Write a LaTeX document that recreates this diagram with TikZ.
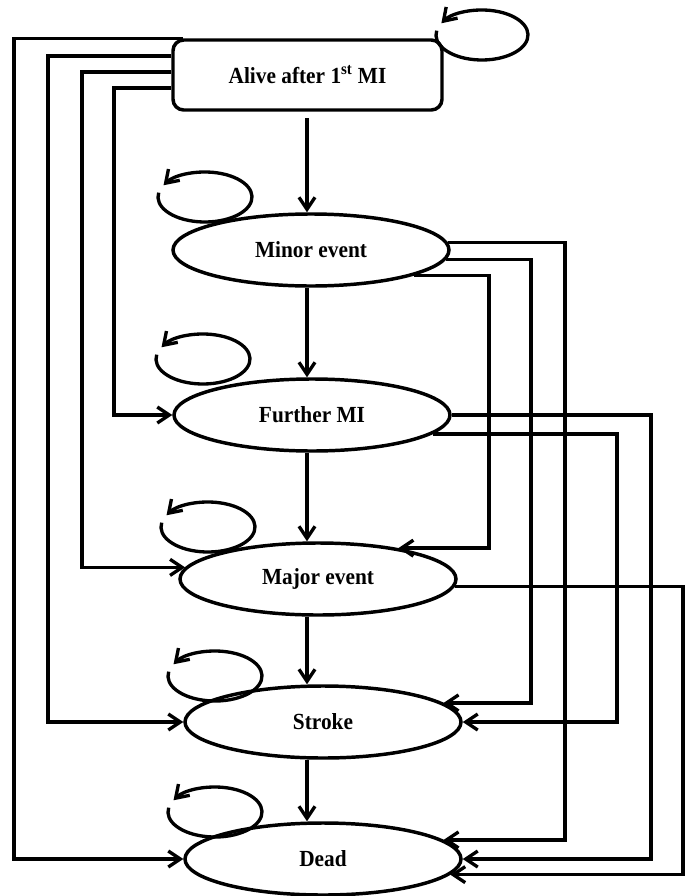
\documentclass[tikz,border=0pt]{standalone}
\usepackage{fontspec}
\setmainfont{Liberation Serif}
\usetikzlibrary{shapes.geometric,arrows.meta}
\newcommand\selfloop[3]{\draw[arr] (#1,#2) ++(-190:#3 and 18.75pt) arc[start angle=-190,end angle=152,x radius=#3,y radius=18.75pt];}
\begin{document}
\begin{tikzpicture}[x=0.75pt,y=0.75pt,line width=2.5pt,
  arr/.style={-{Straight Barb[length=9pt,width=12pt]}},
  lbl/.style={font=\fontsize{16}{19}\selectfont\bfseries},
  state/.style={ellipse,draw,line width=2.6pt,minimum width=207pt,minimum height=54pt,inner sep=0pt,lbl},
  startbox/.style={rectangle,rounded corners=8pt,draw,line width=2.6pt,minimum width=201.75pt,minimum height=52.5pt,inner sep=0pt,lbl}]
\useasboundingbox (0,0) rectangle (686,-896);
% nodes
\node[startbox] (A) at (307.5,-75) {\scalebox{1}[1.08]{Alive after 1\textsuperscript{st} MI}};
\node[state] (MI) at (311,-250) {\scalebox{1}[1.08]{Minor event}};
\node[state] (FM) at (312,-415) {\scalebox{1}[1.08]{Further MI}};
\node[state] (MJ) at (318,-579) {\scalebox{1}[1.08]{Major event}};
\node[state] (ST) at (323,-722) {\scalebox{1}[1.08]{Stroke}};
\node[state] (DE) at (323,-859) {\scalebox{1}[1.08]{Dead}};
% helper coordinates
\coordinate (vx) at (307,0);
\coordinate (l1) at (14,0);
\coordinate (l2) at (48,0);
\coordinate (l3) at (82,0);
\coordinate (l4) at (114,0);
\coordinate (r1) at (489,0);
\coordinate (r2) at (531,0);
\coordinate (r3) at (565,0);
\coordinate (r4) at (617,0);
\coordinate (r5) at (651,0);
\coordinate (r6) at (683,0);
% vertical chain
\draw[arr] ([yshift=-5pt]A.south -| vx) -- (MI.north -| vx);
\draw[arr] (MI.south -| vx) -- (FM.north -| vx);
\draw[arr] (FM.south -| vx) -- (MJ.north -| vx);
\draw[arr] (MJ.south -| vx) -- (ST.north -| vx);
\draw[arr] (ST.south -| vx) -- (DE.north -| vx);
% left side from Alive
\draw[arr] ([xshift=9pt]A.north west) -- (A.north west -| l1) |- (DE.west);
\draw[arr] (A.west |- 0,-56) -- (l2 |- 0,-56) |- (ST.west);
\draw[arr] (A.west |- 0,-72) -- (l3 |- 0,-72) |- (MJ.175);
\draw[arr] (A.west |- 0,-88) -- (l4 |- 0,-88) |- (FM.west);
% right side
\draw[arr] (MI.-14) -| (r1 |- MJ.21) -- (MJ.21);
\draw[arr] (MI.-4) -| (r2 |- ST.9) -- (ST.9);
\draw[arr] (MI.3) -| (r3 |- DE.9) -- (DE.9);
\draw[arr] (FM.-9) -| (r4 |- ST.east) -- (ST.east);
\draw[arr] (FM.east) -| (r5 |- DE.east) -- (DE.east);
\draw[arr] (MJ.-3) -| (r6 |- DE.-7) -- (DE.-7);
% self loops
\selfloop{482}{-35}{34.5pt}
\selfloop{205}{-197}{35.25pt}
\selfloop{203}{-359}{35.25pt}
\selfloop{208}{-527}{35.25pt}
\selfloop{215}{-676}{35.25pt}
\selfloop{215}{-812}{35.25pt}
\end{tikzpicture}
\end{document}
